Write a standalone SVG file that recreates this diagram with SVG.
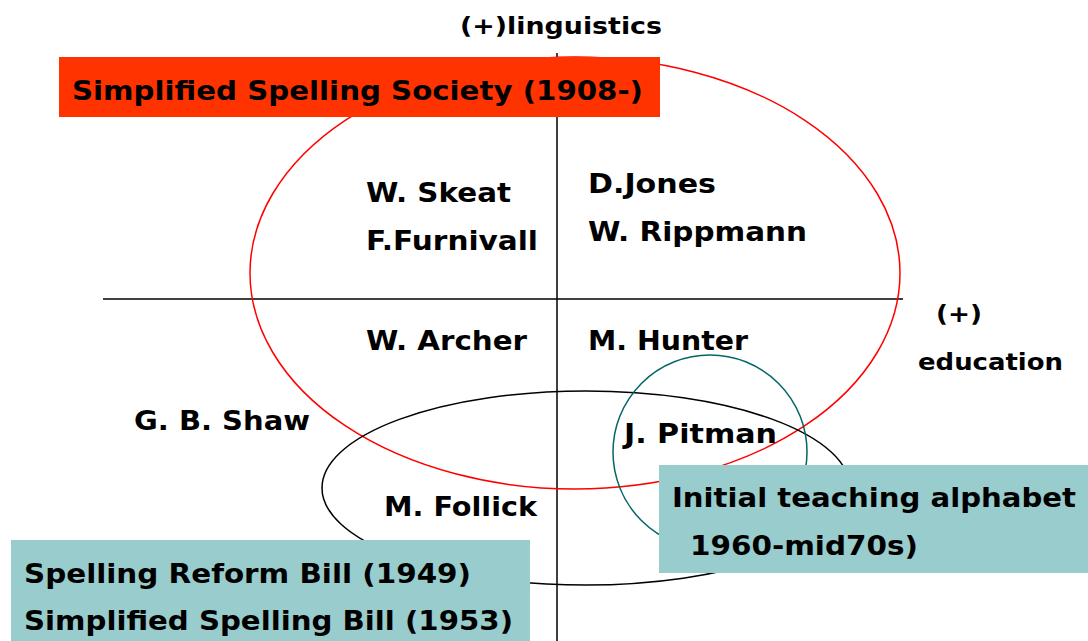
<svg xmlns="http://www.w3.org/2000/svg" width="1088" height="641" viewBox="0 0 1088 641">
<style>
text{font-family:"DejaVu Sans","Liberation Sans",sans-serif;font-weight:bold;font-size:26.5px;fill:#000}
.sm{font-size:23.5px}
.axis{stroke:#000;stroke-width:1.5;fill:none}
</style>
<rect width="1088" height="641" fill="#fff"/>
<g id="axes" class="connectors">
<line class="axis" x1="557" y1="53" x2="557" y2="641"/>
<line class="axis" x1="103" y1="299" x2="903" y2="299"/>
</g>
<g id="red-ellipse"><ellipse cx="575" cy="273" rx="325" ry="216" fill="none" stroke="#FF0000" stroke-width="1.5"/></g>
<g id="black-ellipse"><ellipse cx="586" cy="488" rx="264" ry="97" fill="none" stroke="#000" stroke-width="1.5"/></g>
<g id="teal-circle"><circle cx="710" cy="452" r="97" fill="none" stroke="#006666" stroke-width="1.5"/></g>
<g id="label-linguistics"><text class="sm" x="460" y="34" textLength="202" lengthAdjust="spacingAndGlyphs">(+)linguistics</text></g>
<g id="label-education"><text class="sm" x="936" y="322" textLength="46" lengthAdjust="spacingAndGlyphs">(+)</text><text class="sm" x="918" y="370" textLength="145" lengthAdjust="spacingAndGlyphs">education</text></g>
<g id="society"><rect x="59" y="57" width="601" height="60" fill="#FF3300"/><text x="72" y="100" textLength="571" lengthAdjust="spacingAndGlyphs">Simplified Spelling Society (1908-)</text></g>
<g id="skeat"><text x="366" y="202" textLength="145" lengthAdjust="spacingAndGlyphs">W. Skeat</text></g>
<g id="furnivall"><text x="366" y="250" textLength="172" lengthAdjust="spacingAndGlyphs">F.Furnivall</text></g>
<g id="jones"><text x="588" y="193" textLength="128" lengthAdjust="spacingAndGlyphs">D.Jones</text></g>
<g id="rippmann"><text x="588" y="241" textLength="219" lengthAdjust="spacingAndGlyphs">W. Rippmann</text></g>
<g id="archer"><text x="366" y="350" textLength="161" lengthAdjust="spacingAndGlyphs">W. Archer</text></g>
<g id="hunter"><text x="588" y="350" textLength="160" lengthAdjust="spacingAndGlyphs">M. Hunter</text></g>
<g id="shaw"><text x="134" y="430" textLength="176" lengthAdjust="spacingAndGlyphs">G. B. Shaw</text></g>
<g id="pitman"><text x="624" y="443" textLength="153" lengthAdjust="spacingAndGlyphs">J. Pitman</text></g>
<g id="follick"><text x="384" y="516" textLength="153" lengthAdjust="spacingAndGlyphs">M. Follick</text></g>
<g id="ita"><rect x="659" y="465" width="429" height="108" fill="#99CCCC"/><text x="672" y="507" textLength="404" lengthAdjust="spacingAndGlyphs">Initial teaching alphabet</text><text x="690" y="555" textLength="228" lengthAdjust="spacingAndGlyphs">1960-mid70s)</text></g>
<g id="bills"><rect x="11" y="540" width="519" height="101" fill="#99CCCC"/><text x="24" y="583" textLength="447" lengthAdjust="spacingAndGlyphs">Spelling Reform Bill (1949)</text><text x="24" y="630" textLength="489" lengthAdjust="spacingAndGlyphs">Simplified Spelling Bill (1953)</text></g>
</svg>
